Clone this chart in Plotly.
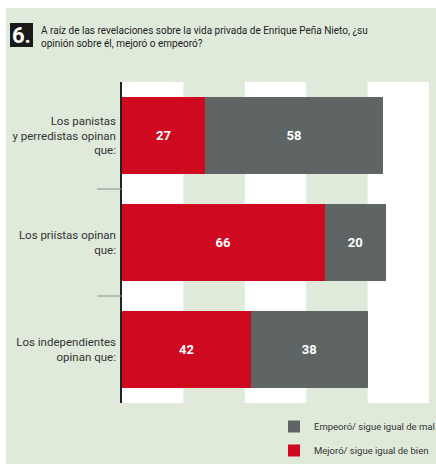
import plotly.graph_objects as go

categories = ["Los panistas<br>y perredistas opinan<br>que:", "Los priístas opinan<br>que:", "Los independientes<br>opinan que:"]
mejoro = [27, 66, 42]
empeoro = [58, 20, 38]
series_names = ["Mejoró/ sigue igual de bien", "Empeoró/ sigue igual de mal"]
title_num = "6."
title_text = "A raíz de las revelaciones sobre la vida privada de Enrique Peña Nieto, ¿su<br>opinión sobre él, mejoró o empeoró?"

RED = "#cf0a20"
GRAY = "#5e6564"
GREEN = "#dfeadb"
FONT = "Roboto, Liberation Sans, sans-serif"

W, H = 436, 464
L, R, T, B = 122, 7, 82, 61
pw, ph = W - L - R, H - T - B

def px(x):
    return (x - L) / pw

def py(y):
    return (H - B - y) / ph

fig = go.Figure()
fig.add_trace(go.Bar(
    y=categories, x=mejoro, name=series_names[0], orientation="h", legendgroup="a", legendrank=2,
    marker=dict(color=RED, line=dict(width=0)),
    text=mejoro, textposition="inside", insidetextanchor="middle",
    textfont=dict(color="white", size=13, family=FONT, weight="bold"),
))
fig.add_trace(go.Bar(
    y=categories, x=empeoro, name=series_names[1], orientation="h", legendgroup="b", legendrank=1,
    marker=dict(color=GRAY, line=dict(width=0)),
    text=empeoro, textposition="inside", insidetextanchor="middle",
    textfont=dict(color="white", size=13, family=FONT, weight="bold"),
))

shapes = [
    dict(type="rect", xref="paper", yref="paper", x0=px(6), x1=px(W + 5), y0=py(8), y1=py(H + 5),
         fillcolor=GREEN, line=dict(width=0), layer="below"),
]
for a in (0, 40, 80):
    shapes.append(dict(type="rect", xref="x", yref="paper", x0=a, x1=a + 20, y0=0, y1=1,
                       fillcolor="white", line=dict(width=0), layer="below"))
for yb in (0.5, 1.5):
    shapes.append(dict(type="line", xref="paper", yref="y", x0=px(97), x1=0, y0=yb, y1=yb,
                       line=dict(color="#8a8f8a", width=1)))
shapes.append(dict(type="rect", xref="paper", yref="paper", x0=px(10), x1=px(33), y0=py(23), y1=py(47),
                   fillcolor="#1a1a1a", line=dict(width=0)))

annotations = [
    dict(text=title_num, xref="paper", yref="paper", x=px(21.5), y=py(35.5), xanchor="center", yanchor="middle",
         showarrow=False, font=dict(color="white", size=22, family=FONT, weight="bold")),
    dict(text=title_text, xref="paper", yref="paper", x=px(39), y=py(37), xanchor="left", yanchor="middle",
         align="left", showarrow=False, font=dict(color="#222222", size=10, family=FONT)),
]

fig.update_layout(
    width=W, height=H,
    margin=dict(l=L, r=R, t=T, b=B, autoexpand=False),
    paper_bgcolor="white", plot_bgcolor="rgba(0,0,0,0)",
    barmode="stack", bargap=0.28,
    font=dict(family=FONT, color="#333333", size=12),
    xaxis=dict(range=[0, 100], showgrid=False, zeroline=False, showticklabels=False, ticks="",
               automargin=False, fixedrange=True),
    yaxis=dict(autorange="reversed", showgrid=False, zeroline=False, showline=True, linecolor="#222222",
               linewidth=1.5, ticks="", ticklabelstandoff=2, automargin=False, fixedrange=True,
               tickfont=dict(size=11.5, family=FONT, color="#333333")),
    shapes=shapes, annotations=annotations,
    showlegend=True,
    legend=dict(x=px(274), y=py(412), xanchor="left", yanchor="top", traceorder="grouped",
                bgcolor="rgba(0,0,0,0)", font=dict(size=9.5, family=FONT, color="#333333"),
                itemsizing="constant", tracegroupgap=5),
)
fig.write_html("out.html", config={"displayModeBar": False},
               post_script="document.body.style.margin='0';document.body.style.overflow='hidden';")
